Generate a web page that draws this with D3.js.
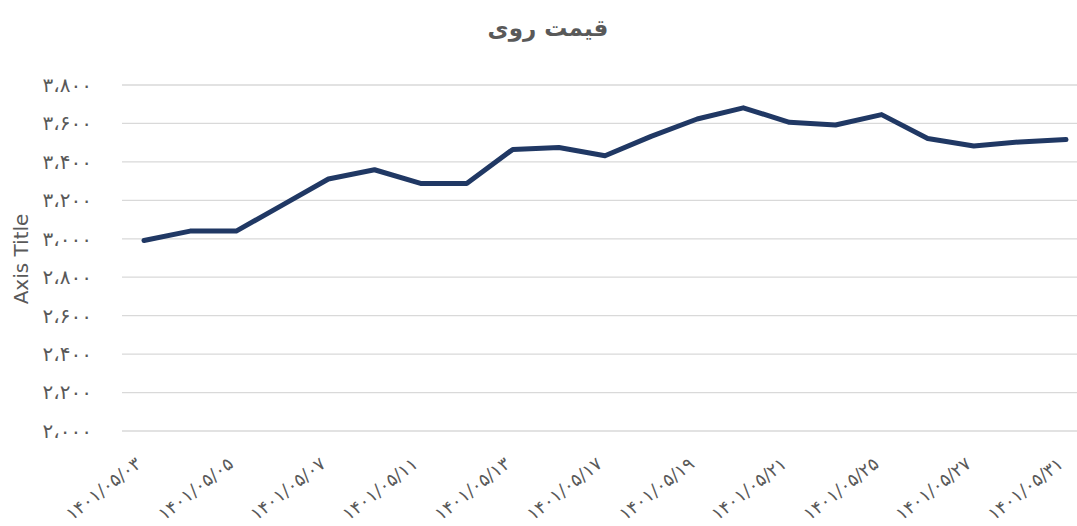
<!DOCTYPE html>
<html>
<head>
<meta charset="utf-8">
<script src="https://cdn.jsdelivr.net/npm/d3@7"></script>
<style>
  body { margin: 0; background: #fff; }
  svg text { font-family: "DejaVu Sans", "Noto Sans", sans-serif; }
</style>
</head>
<body>
<div id="chart"></div>
<script>
// categories: trading days of month 05, 1401
const dates = ["1401/05/03", "1401/05/04", "1401/05/05", "1401/05/06", "1401/05/07",
    "1401/05/10", "1401/05/11", "1401/05/12", "1401/05/13", "1401/05/16", "1401/05/17",
    "1401/05/18", "1401/05/19", "1401/05/20", "1401/05/21", "1401/05/24", "1401/05/25",
    "1401/05/26", "1401/05/27", "1401/05/30", "1401/05/31"];
// price values
const prices = [2991, 3040, 3040, 3175, 3311, 3359, 3288, 3288, 3465, 3475, 3432,
    3533, 3623, 3681, 3606, 3592, 3646, 3522, 3483, 3504, 3516];
const yTicks = [2000, 2200, 2400, 2600, 2800, 3000, 3200, 3400, 3600, 3800];
const chartTitle = "قیمت روی";
const yTitle = "Axis Title";

const W = 1077, H = 526;
const faDigits = "۰۱۲۳۴۵۶۷۸۹";
const toFa = s => String(s).replace(/[0-9]/g, d => faDigits[+d]);
const fmtY = v => toFa(d3.format(",")(v)).replace(",", "،");

const svg = d3.select("#chart").append("svg")
    .attr("width", W)
    .attr("height", H);

// scales
let x = d3.scalePoint()
    .domain(dates)
    .range([144, 1066]);
let y = d3.scaleLinear()
    .domain([2000, 3800])
    .range([431, 85]);

// gridlines
svg.append("g")
    .selectAll("line")
    .data(yTicks)
    .enter()
    .append("line")
    .attr("x1", 122)
    .attr("x2", W)
    .attr("y1", d => y(d))
    .attr("y2", d => y(d))
    .style("stroke", "#d9d9d9")
    .style("stroke-width", 1.3);

// y axis labels
const axeY = d3.axisLeft(y)
    .tickValues(yTicks)
    .tickFormat(fmtY)
    .tickSize(0)
    .tickPadding(0);
const groupeY = svg.append("g")
    .attr("transform", "translate(92,0)")
    .call(axeY);
groupeY.select(".domain").remove();
groupeY.selectAll("text")
    .style("font-size", "20px")
    .style("fill", "#595959");

// x axis labels, every other category
const axeX = d3.axisBottom(x)
    .tickValues(dates.filter((d, i) => i % 2 == 0))
    .tickFormat(toFa)
    .tickSize(0);
const groupeX = svg.append("g")
    .attr("transform", "translate(0,455)")
    .call(axeX);
groupeX.select(".domain").remove();
groupeX.selectAll("text")
    .attr("text-anchor", "end")
    .attr("dy", 0)
    .attr("y", 0)
    .attr("transform", "translate(-2,11) rotate(-38)")
    .style("font-size", "18px")
    .style("fill", "#595959");

// the line
let valueLine = d3.line()
    .x((d, i) => x(dates[i]))
    .y(d => y(d));

svg.append("path")
    .attr("d", valueLine(prices))
    .style("fill", "none")
    .style("stroke", "#203864")
    .style("stroke-width", 5)
    .style("stroke-linejoin", "round")
    .style("stroke-linecap", "round");

// titles
svg.append("text")
    .attr("x", 548)
    .attr("y", 36)
    .attr("text-anchor", "middle")
    .style("font-size", "23px")
    .style("font-weight", "bold")
    .style("fill", "#595959")
    .text(chartTitle);

svg.append("text")
    .attr("transform", "translate(28,259) rotate(-90)")
    .attr("text-anchor", "middle")
    .style("font-size", "20px")
    .style("fill", "#595959")
    .text(yTitle);
</script>
</body>
</html>
